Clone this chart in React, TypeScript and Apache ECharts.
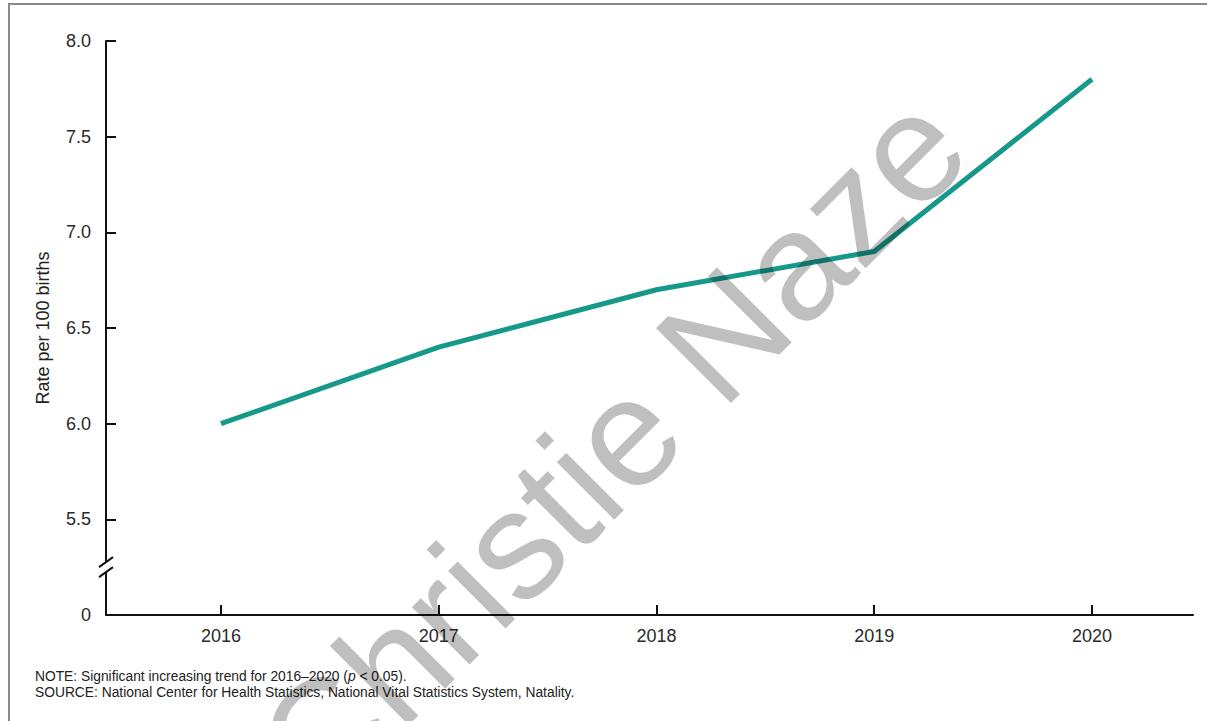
import React, { useEffect, useRef } from "react";
import * as echarts from "echarts";

const years = [2016, 2017, 2018, 2019, 2020];
const rates = [6.0, 6.4, 6.7, 6.9, 7.8];
const yTicks = [5.0, 5.5, 6.0, 6.5, 7.0, 7.5, 8.0];
const breakValue = 5.25;
const axisZeroValue = 5.0;
const yAxisName = "Rate per 100 births";
const watermark = "Christie Naze";

const FONT = "'Liberation Sans', Arial, Helvetica, sans-serif";

export default function App() {
  const ref = useRef<HTMLDivElement>(null);
  useEffect(() => {
    document.body.style.margin = "0";
    const chart = echarts.init(ref.current!, null, { renderer: "svg" });
    const option: any = {
      animation: false,
      backgroundColor: "#ffffff",
      grid: { left: 106, right: 14, top: 41, bottom: 106, containLabel: false },
      xAxis: {
        type: "value",
        min: 2015.472,
        max: 2020.464,
        splitLine: { show: false },
        axisLine: { show: true, lineStyle: { color: "#111", width: 2 } },
        axisTick: {
          show: true,
          inside: true,
          length: 10,
          lineStyle: { color: "#111", width: 2 },
          customValues: years,
        },
        axisLabel: {
          customValues: years,
          formatter: (v: number) => String(Math.round(v)),
          color: "#2a2a2a",
          fontSize: 18,
          fontFamily: FONT,
          margin: 12,
        },
      },
      yAxis: {
        type: "value",
        min: 5.0,
        max: 8.0,
        interval: 0.5,
        name: yAxisName,
        nameLocation: "middle",
        nameGap: 54,
        nameTextStyle: { color: "#222", fontSize: 18, fontFamily: FONT },
        splitLine: { show: false },
        axisLine: { show: true, lineStyle: { color: "#111", width: 2 } },
        axisTick: {
          show: true,
          inside: true,
          length: 10,
          lineStyle: { color: "#111", width: 2 },
          customValues: yTicks.filter((v) => v !== axisZeroValue),
        },
        axisLabel: {
          customValues: yTicks,
          formatter: (v: number) => (Math.abs(v - axisZeroValue) < 1e-9 ? "0" : v.toFixed(1)),
          color: "#2a2a2a",
          fontSize: 18,
          fontFamily: FONT,
          margin: 15,
        },
      },
      series: [
        {
          type: "line",
          data: years.map((y, i) => [y, rates[i]]),
          symbol: "none",
          lineStyle: { color: "#16998b", width: 5 },
          z: 3,
        },
      ],
    };
    chart.setOption(option);

    const [ax, by] = chart.convertToPixel({ gridIndex: 0 }, [2015.472, breakValue]) as number[];
    const theta = (45 * Math.PI) / 180;
    chart.setOption({
      graphic: [
        {
          type: "rect",
          z: 50,
          shape: { x: ax - 4, y: by - 5, width: 8, height: 10 },
          style: { fill: "#ffffff" },
        },
        {
          type: "line",
          z: 51,
          shape: { x1: ax - 7, y1: by, x2: ax + 7, y2: by - 10 },
          style: { stroke: "#111", lineWidth: 2 },
        },
        {
          type: "line",
          z: 51,
          shape: { x1: ax - 7, y1: by + 10, x2: ax + 7, y2: by },
          style: { stroke: "#111", lineWidth: 2 },
        },
        {
          type: "rect",
          z: 1,
          shape: { x: 9, y: 4, width: 1220, height: 740 },
          style: { fill: "none", stroke: "#8a8a8a", lineWidth: 2 },
        },
        {
          type: "text",
          z: 60,
          x: 35,
          y: 684.5,
          style: {
            text: "NOTE: Significant increasing trend for 2016–2020 ({i|p} < 0.05).\nSOURCE: National Center for Health Statistics, National Vital Statistics System, Natality.",
            fill: "#222",
            fontSize: 13.8,
            fontFamily: FONT,
            lineHeight: 16,
            verticalAlign: "middle",
            rich: { i: { fontStyle: "italic", fontSize: 13.8, fontFamily: FONT, fill: "#222", lineHeight: 16 } },
          },
        },
        {
          type: "text",
          z: 100,
          x: 612,
          y: 447,
          rotation: theta,
          style: {
            text: watermark,
            fill: "rgba(0,0,0,0.25)",
            fontSize: 154,
            fontFamily: FONT,
            align: "center",
            verticalAlign: "middle",
          },
        },
      ],
    });

    return () => chart.dispose();
  }, []);
  return <div ref={ref} style={{ width: 1207, height: 721 }} />;
}
